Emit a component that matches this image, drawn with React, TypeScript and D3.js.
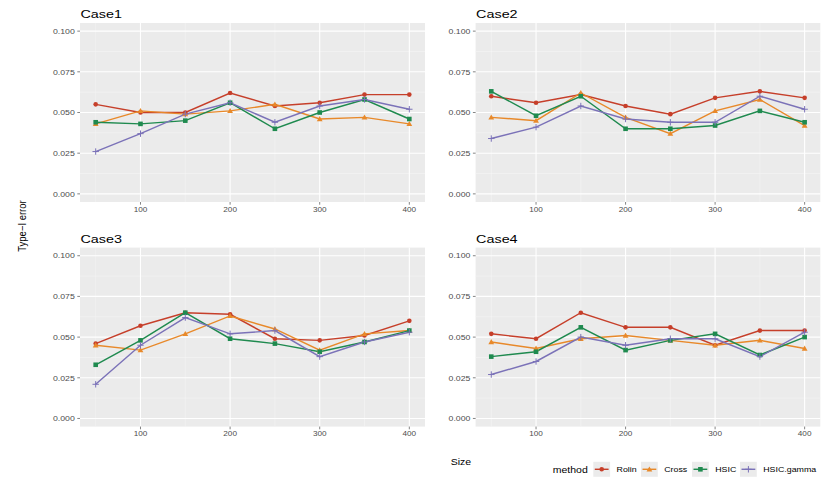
import React from 'react';
import * as d3 from 'd3';

const sizes = [50, 100, 150, 200, 250, 300, 350, 400];
const methods = ['Rolin', 'Cross', 'HSIC', 'HSIC.gamma'];
const colors = ['#C63F2A', '#E8892A', '#1F8A4F', '#7B72B8'];
const caseNames = ['Case1', 'Case2', 'Case3', 'Case4'];
const yTicks = [0, 0.025, 0.05, 0.075, 0.1];
const xTicks = [100, 200, 300, 400];

// rows: Rolin, Cross, HSIC, HSIC.gamma
const case1 = [
  [0.055, 0.05, 0.05, 0.062, 0.054, 0.056, 0.061, 0.061],
  [0.043, 0.051, 0.049, 0.051, 0.055, 0.046, 0.047, 0.043],
  [0.044, 0.043, 0.045, 0.056, 0.04, 0.05, 0.058, 0.046],
  [0.026, 0.037, 0.049, 0.056, 0.044, 0.054, 0.058, 0.052],
];
const case2 = [
  [0.06, 0.056, 0.061, 0.054, 0.049, 0.059, 0.063, 0.059],
  [0.047, 0.045, 0.062, 0.047, 0.037, 0.051, 0.058, 0.042],
  [0.063, 0.048, 0.06, 0.04, 0.04, 0.042, 0.051, 0.044],
  [0.034, 0.041, 0.054, 0.046, 0.044, 0.044, 0.06, 0.052],
];
const case3 = [
  [0.046, 0.057, 0.065, 0.064, 0.049, 0.048, 0.051, 0.06],
  [0.045, 0.042, 0.052, 0.063, 0.055, 0.042, 0.052, 0.054],
  [0.033, 0.048, 0.065, 0.049, 0.046, 0.041, 0.047, 0.054],
  [0.021, 0.045, 0.062, 0.052, 0.054, 0.038, 0.047, 0.053],
];
const case4 = [
  [0.052, 0.049, 0.065, 0.056, 0.056, 0.045, 0.054, 0.054],
  [0.047, 0.043, 0.049, 0.051, 0.048, 0.045, 0.048, 0.043],
  [0.038, 0.041, 0.056, 0.042, 0.048, 0.052, 0.039, 0.05],
  [0.027, 0.035, 0.05, 0.045, 0.049, 0.049, 0.038, 0.053],
];
const allCases = [case1, case2, case3, case4];

const W = 830;
const H = 490;
const FONT = '"Liberation Sans", Arial, sans-serif';

const panels = [
  { left: 80, right: 425, top: 23, bottom: 202 },
  { left: 475.6, right: 820.3, top: 23, bottom: 202 },
  { left: 80, right: 425, top: 247.6, bottom: 426.6 },
  { left: 475.6, right: 820.3, top: 247.6, bottom: 426.6 },
];

// the reference text is a little wider than Liberation Sans, so stretch it in x
function Txt(props: {
  x: number;
  y: number;
  size: number;
  sx?: number;
  anchor?: string;
  fill?: string;
  dy?: string;
  children: React.ReactNode;
}) {
  const { x, y, size, sx = 1.1, anchor = 'start', fill = '#000', dy, children } = props;
  return (
    <text
      transform={`translate(${x},${y}) scale(${sx},1)`}
      dy={dy}
      textAnchor={anchor}
      fontSize={size}
      fill={fill}
      fontFamily={FONT}
    >
      {children}
    </text>
  );
}

function Marker({ k, x, y, color }: { k: number; x: number; y: number; color: string }) {
  if (k === 0) return <circle cx={x} cy={y} r={2.3} fill={color} />;
  if (k === 1) {
    const s = 2.9;
    return <path d={`M${x},${y - s}L${x + s},${y + s * 0.75}L${x - s},${y + s * 0.75}Z`} fill={color} />;
  }
  if (k === 2) return <rect x={x - 2.3} y={y - 2.3} width={4.6} height={4.6} fill={color} />;
  return (
    <path d={`M${x - 3.2},${y}H${x + 3.2}M${x},${y - 3.2}V${y + 3.2}`} stroke={color} strokeWidth={1} />
  );
}

function Panel({ idx }: { idx: number }) {
  const p = panels[idx];
  const data = allCases[idx];
  const x = d3.scaleLinear().domain([50 - 17.5, 400 + 17.5]).range([p.left, p.right]);
  const y = d3.scaleLinear().domain([-0.005, 0.105]).range([p.bottom, p.top]);
  const line = d3
    .line<number>()
    .x((_, i) => x(sizes[i]))
    .y((d) => y(d));
  const minorY = [0.0125, 0.0375, 0.0625, 0.0875];
  const minorX = [50, 150, 250, 350];
  return (
    <g>
      <Txt x={p.left + 0.5} y={p.top - 4.6} size={11.5} sx={1.25}>
        {caseNames[idx]}
      </Txt>
      <rect x={p.left} y={p.top} width={p.right - p.left} height={p.bottom - p.top} fill="#EBEBEB" />
      {minorY.map((v) => (
        <line key={'my' + v} x1={p.left} x2={p.right} y1={y(v)} y2={y(v)} stroke="#F5F5F5" strokeWidth={0.55} />
      ))}
      {minorX.map((v) => (
        <line key={'mx' + v} x1={x(v)} x2={x(v)} y1={p.top} y2={p.bottom} stroke="#F5F5F5" strokeWidth={0.55} />
      ))}
      {yTicks.map((v) => (
        <line key={'y' + v} x1={p.left} x2={p.right} y1={y(v)} y2={y(v)} stroke="#FFFFFF" strokeWidth={1.1} />
      ))}
      {xTicks.map((v) => (
        <line key={'x' + v} x1={x(v)} x2={x(v)} y1={p.top} y2={p.bottom} stroke="#FFFFFF" strokeWidth={1.1} />
      ))}
      {yTicks.map((v) => (
        <g key={'yt' + v}>
          <line x1={p.left - 2.7} x2={p.left} y1={y(v)} y2={y(v)} stroke="#333333" strokeWidth={0.6} />
          <Txt x={p.left - 5.2} y={y(v)} dy="0.35em" anchor="end" size={7.8} sx={1.12} fill="#4D4D4D">
            {d3.format('.3f')(v)}
          </Txt>
        </g>
      ))}
      {xTicks.map((v) => (
        <g key={'xt' + v}>
          <line x1={x(v)} x2={x(v)} y1={p.bottom} y2={p.bottom + 2.7} stroke="#333333" strokeWidth={0.6} />
          <Txt x={x(v)} y={p.bottom + 9.8} anchor="middle" size={7.8} sx={1.05} fill="#4D4D4D">
            {v}
          </Txt>
        </g>
      ))}
      {data.map((vals, k) => (
        <path key={'l' + k} d={line(vals) || ''} fill="none" stroke={colors[k]} strokeWidth={1.45} />
      ))}
      {data.map((vals, k) =>
        vals.map((v, i) => <Marker key={'m' + k + '-' + i} k={k} x={x(sizes[i])} y={y(v)} color={colors[k]} />)
      )}
    </g>
  );
}

function Legend() {
  const cy = 469.3;
  const keyX = [593.3, 641, 692, 740];
  return (
    <g>
      <Txt x={552.7} y={cy} dy="0.35em" size={9.4} sx={1.12}>
        method
      </Txt>
      {methods.map((m, k) => (
        <g key={m}>
          <rect x={keyX[k]} y={cy - 7.5} width={16.8} height={15} fill="#EBEBEB" />
          <line x1={keyX[k] + 1.5} x2={keyX[k] + 15.3} y1={cy} y2={cy} stroke={colors[k]} strokeWidth={1.45} />
          <Marker k={k} x={keyX[k] + 8.4} y={cy} color={colors[k]} />
          <Txt x={keyX[k] + 23.2} y={cy} dy="0.35em" size={7.9} sx={1.12}>
            {m}
          </Txt>
        </g>
      ))}
    </g>
  );
}

export default function App() {
  return (
    <svg
      width={W}
      height={H}
      style={{ position: 'absolute', left: 0, top: 0, background: '#fff' }}
    >
      <rect width={W} height={H} fill="#FFFFFF" />
      {panels.map((_, i) => (
        <Panel key={i} idx={i} />
      ))}
      <text
        transform="translate(25.5,226) scale(1.12,1) rotate(-90)"
        textAnchor="middle"
        fontSize={9.5}
        fill="#000"
        fontFamily={FONT}
      >
        Type−I error
      </text>
      <Txt x={461} y={465} anchor="middle" size={9.4} sx={1.12}>
        Size
      </Txt>
      <Legend />
    </svg>
  );
}
